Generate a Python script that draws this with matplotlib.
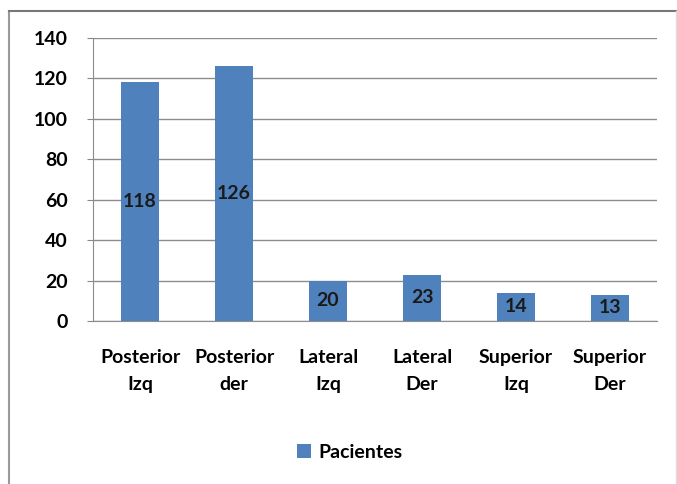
import matplotlib.pyplot as plt
from matplotlib.lines import Line2D

categorias = ["Posterior\nIzq", "Posterior\nder", "Lateral\nIzq", "Lateral\nDer", "Superior\nIzq", "Superior\nDer"]
pacientes = [118, 126, 20, 23, 14, 13]
yticks = [0, 20, 40, 60, 80, 100, 120, 140]

plt.rcParams['font.family'] = ['Lato', 'DejaVu Sans']
azul = '#4F81BD'

fig = plt.figure(figsize=(6.77, 4.84), dpi=100)
ax = fig.add_axes([93/677, 1 - 321/484, (657-93)/677, (321-38)/484])

x = range(len(categorias))
bars = ax.bar(x, pacientes, width=0.4, color=azul, zorder=3, label='Pacientes')
for b, v in zip(bars, pacientes):
    ax.text(b.get_x() + b.get_width()/2, v/2, str(v), ha='center', va='center',
            fontsize=14, fontweight='bold', color='#1a1a1a', zorder=4)

ax.set_xlim(-0.5, len(categorias) - 0.5)
ax.set_ylim(0, 140)
ax.set_yticks(yticks)
ax.set_yticklabels([str(t) for t in yticks], fontsize=14, fontweight='bold')
ax.set_xticks(list(x))
ax.set_xticklabels(categorias, fontsize=14, fontweight='bold', linespacing=1.75)
ax.tick_params(axis='x', length=0, pad=20)
ax.tick_params(axis='y', length=4, color='#888888', pad=14)
ax.grid(axis='y', color='#8c8c8c', linewidth=1, zorder=0)
for s in ['top', 'right']:
    ax.spines[s].set_visible(False)
ax.spines['left'].set_color('#8c8c8c')
ax.spines['bottom'].set_color('#8c8c8c')

fig.legend(handles=[bars], labels=['Pacientes'], loc='center', bbox_to_anchor=(350/677, 1 - 452/484),
           frameon=False, handlelength=0.7, handleheight=0.7, handletextpad=0.4,
           prop={'weight': 'bold', 'size': 14})

# outer chart border (left, top, faint right)
fig.add_artist(Line2D([9/677, 9/677], [0, 1 - 11/484], transform=fig.transFigure, color='#999999', lw=1.5))
fig.add_artist(Line2D([9/677, 1], [1 - 11/484, 1 - 11/484], transform=fig.transFigure, color='#777777', lw=1.5))
fig.add_artist(Line2D([675.5/677, 675.5/677], [0, 1 - 11/484], transform=fig.transFigure, color='#dddddd', lw=1))

fig.savefig('out.png', dpi=100)
